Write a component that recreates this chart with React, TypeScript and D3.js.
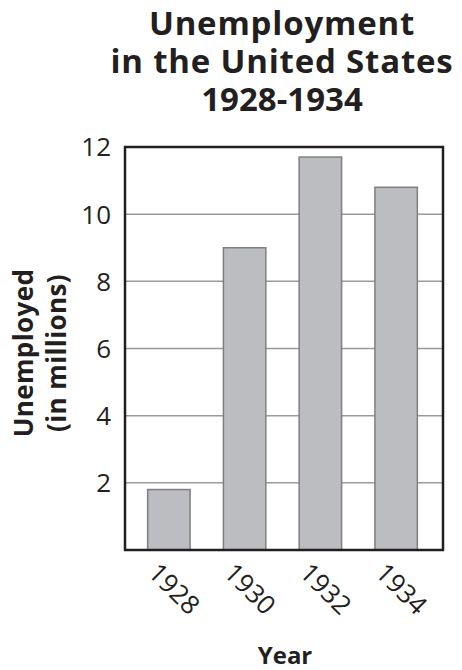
import { useEffect, useRef } from 'react';
import * as d3 from 'd3';

const years = ['1928', '1930', '1932', '1934'];
const unemployed = [1.8, 9.0, 11.7, 10.8];
const yTicks = [2, 4, 6, 8, 10, 12];
const titleLines = ['Unemployment', 'in the United States', '1928-1934'];

const App = () => {
  const ref = useRef<SVGSVGElement | null>(null);

  useEffect(() => {
    if (!ref.current) return;
    const svg = d3.select(ref.current);
    svg.selectAll('*').remove();

    const left = 125, right = 443, top = 147, bottom = 550;
    const font = '"Open Sans", "Noto Sans", sans-serif';
    const ink = '#231f20';

    const x = d3.scaleBand<string>()
      .domain(years)
      .range([131, 434])
      .paddingInner(0.44)
      .paddingOuter(0.22);
    const y = d3.scaleLinear().domain([0, 12]).range([bottom, top]);

    // title, one text block with three lines
    svg.append('text')
      .attr('text-anchor', 'middle')
      .style('font-family', font)
      .style('font-weight', 'bold')
      .style('font-size', '33px')
      .attr('fill', ink)
      .selectAll('tspan')
      .data(titleLines)
      .join('tspan')
      .attr('x', 282)
      .attr('y', (d, i) => 35 + i * 38)
      .style('letter-spacing', (d, i) => (i === 2 ? '0px' : '0.8px'))
      .text(d => d);

    // gridlines
    svg.append('g')
      .selectAll('line')
      .data(yTicks.filter(t => t < 12))
      .join('line')
      .attr('x1', left)
      .attr('x2', right)
      .attr('y1', d => y(d))
      .attr('y2', d => y(d))
      .attr('stroke', '#9a9a9a')
      .attr('stroke-width', 1.5);

    // bars
    svg.append('g')
      .selectAll('rect')
      .data(unemployed)
      .join('rect')
      .attr('x', (d, i) => x(years[i])!)
      .attr('y', d => y(d))
      .attr('width', x.bandwidth())
      .attr('height', d => y(0) - y(d))
      .attr('fill', '#bcbdc0')
      .attr('stroke', '#7f7f7f')
      .attr('stroke-width', 1.5);

    // frame
    svg.append('rect')
      .attr('x', left)
      .attr('y', top)
      .attr('width', right - left)
      .attr('height', bottom - top)
      .attr('fill', 'none')
      .attr('stroke', ink)
      .attr('stroke-width', 2.5);

    // y tick labels
    svg.append('g')
      .selectAll('text')
      .data(yTicks)
      .join('text')
      .attr('x', 111)
      .attr('y', d => y(d))
      .attr('dy', '0.36em')
      .attr('text-anchor', 'end')
      .style('font-family', font)
      .style('font-size', '26px')
      .attr('fill', ink)
      .text(d => d);

    // x tick labels
    svg.append('g')
      .selectAll('text')
      .data(years)
      .join('text')
      .attr('transform', d => `translate(${x(d)! + x.bandwidth() / 2 - 9},${bottom + 11}) rotate(45)`)
      .attr('dy', '0.72em')
      .style('font-family', font)
      .style('font-size', '26px')
      .attr('fill', ink)
      .text(d => d);

    // axis titles
    svg.append('text')
      .attr('x', 285)
      .attr('y', 664)
      .attr('text-anchor', 'middle')
      .style('font-family', font)
      .style('font-weight', 'bold')
      .style('font-size', '24px')
      .attr('fill', ink)
      .text('Year');

    const yt = svg.append('text')
      .attr('transform', 'translate(0,353) rotate(-90)')
      .attr('text-anchor', 'middle')
      .style('font-family', font)
      .style('font-weight', 'bold')
      .style('font-size', '26px')
      .style('letter-spacing', '0.4px')
      .attr('fill', ink);
    yt.append('tspan').attr('x', 0).attr('y', 33).text('Unemployed');
    yt.append('tspan').attr('x', 0).attr('y', 66).text('(in millions)');
  }, []);

  return (
    <svg ref={ref} width={462} height={670} style={{ position: 'absolute', left: 0, top: 0 }} />
  );
};

export default App;
